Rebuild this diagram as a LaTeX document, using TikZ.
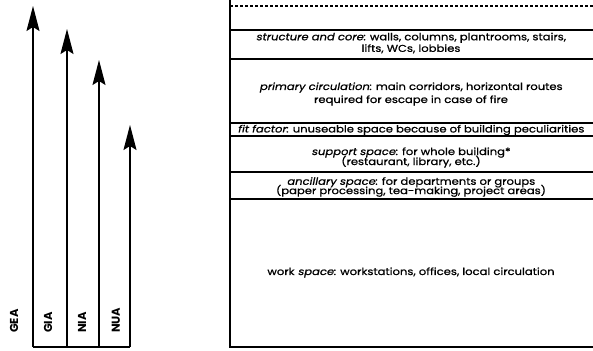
\documentclass[tikz,border=0pt]{standalone}
\usepackage{fontspec}
\setmainfont{Poppins}[AutoFakeSlant=0.2]
\newfontfamily\txtfont{Poppins}[FakeBold=0.9,FakeStretch=1.17,AutoFakeSlant=0.2,ItalicFeatures={FakeBold=0.9}]
\newcommand\mytxtsetup{\txtfont\fontsize{9.9}{10}\selectfont\lineskiplimit -20pt\relax}
\usetikzlibrary{arrows.meta}
\begin{document}
\begin{tikzpicture}[x=1pt,y=-1pt,
  arr/.style={line width=1.4pt,-{Stealth[length=25pt,width=13pt,inset=4pt]}},
  boxline/.style={line width=1.8pt},
  thinline/.style={line width=1.3pt},
  lab/.style={rotate=90,anchor=west,font=\bfseries\fontsize{11.5}{12}\selectfont,inner sep=0pt},
  txt/.style={align=center,font=\mytxtsetup,inner sep=0pt}]
\useasboundingbox (0,0) rectangle (593,350);
% arrows
\coordinate (b1) at (33,347);
\coordinate (b4) at (130,347);
\coordinate (t1) at (33,6);
\coordinate (b2) at (67,347);
\coordinate (t2) at (67,29);
\coordinate (b3) at (99,347);
\coordinate (t3) at (99,60);
\coordinate (t4) at (130,125);
\draw[arr] (b1) -- (t1);
\draw[arr] (b2) -- (t2);
\draw[arr] (b3) -- (t3);
\draw[arr] (b4) -- (t4);
\draw[line width=1.6pt] (b1) -- (b4);
\node[lab] (gea) at (14,333) {GEA};
\node[lab] (gia) at (48,333) {GIA};
\node[lab] (nia) at (82,333) {NIA};
\node[lab] (nua) at (116,333) {NUA};
% box
\coordinate (tl) at (230,0);
\coordinate (bl) at (230,347);
\coordinate (br) at (593,347);
\draw[line width=1.8pt] (tl) -- (bl) -- (br);
\draw[line width=1.2pt,dash pattern=on 3pt off 2pt] (230,6) -- (593,6);
\draw[boxline] (230,30) -- (593,30);
\draw[thinline] (230,59) -- (593,59);
\draw[thinline] (230,123) -- (593,123);
\draw[thinline] (230,136) -- (593,136);
\draw[boxline] (230,172) -- (593,172);
\draw[thinline] (230,199) -- (593,199);
% texts
\node[txt] (sc) at (411,43) {\textit{structure and core}: walls, columns, plantrooms, stairs,\\[1.6pt]lifts, WCs, lobbies};
\node[txt] (pc) at (411,94) {\textit{primary circulation}: main corridors, horizontal routes\\[3pt]required for escape in case of fire};
\node[txt] (ff) at (411,130) {\textit{fit factor}: unuseable space because of building peculiarities};
\node[txt] (ss) at (411,157.5) {\textit{support space}: for whole building*\\(restaurant, library, etc.)};
\node[txt] (as) at (411,187) {\textit{ancillary space}: for departments or groups\\[-0.7pt](paper processing, tea-making, project areas)};
\node[txt] (ws) at (411,272.5) {work \textit{space}: workstations, offices, local circulation};
\end{tikzpicture}
\end{document}
